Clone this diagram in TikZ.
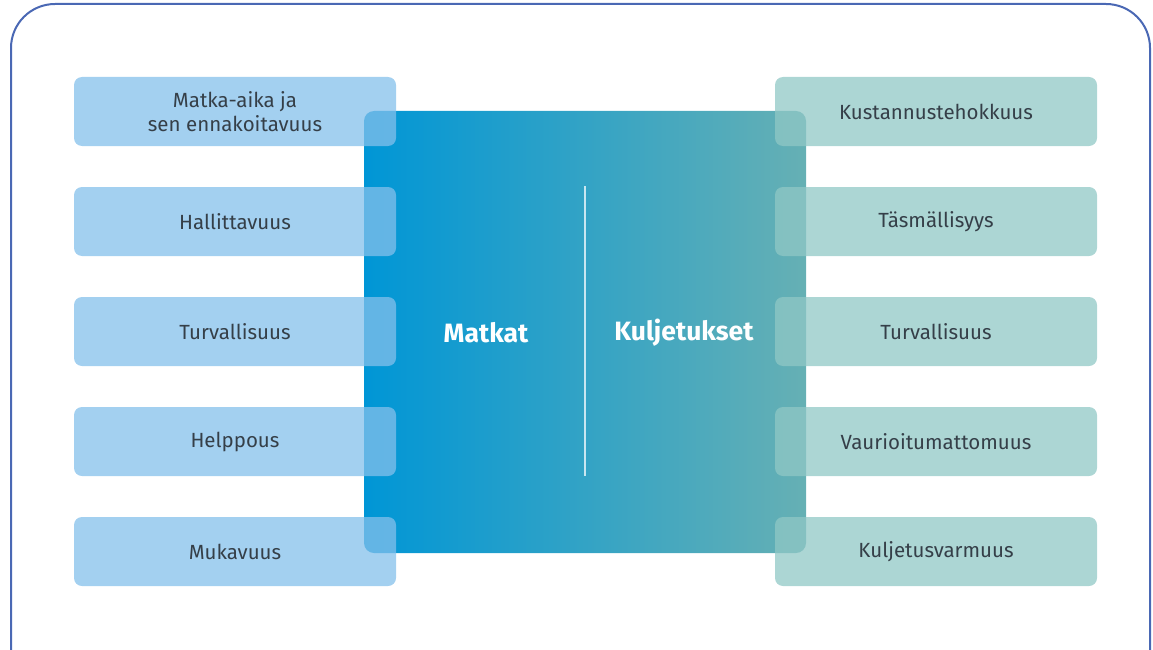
\documentclass[tikz,border=0pt]{standalone}
\usepackage{fontspec}
\setmainfont{Fira Sans}
\usetikzlibrary{positioning}
\definecolor{framec}{HTML}{4A68B4}
\definecolor{lbox}{RGB}{132,192,235}
\definecolor{rbox}{RGB}{144,200,198}
\definecolor{cleft}{HTML}{0096D6}
\definecolor{cright}{HTML}{66B0B4}
\definecolor{txt}{HTML}{353F48}
\definecolor{divc}{HTML}{C8E6F0}
\tikzset{
  lbx/.style={fill=lbox, fill opacity=0.75, text opacity=1, rounded corners=8pt, minimum width=322pt, minimum height=69pt, inner sep=0pt, text=txt, font=\fontsize{20.5}{24}\selectfont, align=center},
  rbx/.style={lbx, fill=rbox},
  big/.style={text=white, font=\fontsize{26.5}{30}\selectfont\bfseries}
}
\begin{document}
\begin{tikzpicture}[x=1pt,y=-1pt]
\useasboundingbox (0,0) rectangle (1153,650);
% outer frame
\draw[framec, line width=2pt] (11,652) -- (11,48) arc[start angle=180, end angle=270, x radius=44pt, y radius=-44pt] -- (1106,4) arc[start angle=270, end angle=360, x radius=44pt, y radius=-44pt] -- (1150,652);
% central gradient block
\shade[left color=cleft, right color=cright, rounded corners=10pt] (364,111) rectangle (806,553);
\node[big] (matkat) at (486,333) {Matkat};
\node[big] (kulj) at (684,333) {Kuljetukset};
\coordinate (dtop) at (585,186);
\coordinate (dbot) at (585,476);
\draw[divc, line width=2pt] (dtop) -- (dbot);
% left boxes
\node[lbx] (l1) at (235,111.5) {Matka-aika ja\\sen ennakoitavuus};
\node[lbx] (l2) at (235,221.5) {Hallittavuus};
\node[lbx] (l3) at (235,331.5) {Turvallisuus};
\node[lbx] (l4) at (235,441.5) {Helppous};
\node[lbx] (l5) at (235,551.5) {Mukavuus};
% right boxes
\node[rbx] (r1) at (936,111.5) {Kustannustehokkuus};
\node[rbx] (r2) at (936,221.5) {Täsmällisyys};
\node[rbx] (r3) at (936,331.5) {Turvallisuus};
\node[rbx] (r4) at (936,441.5) {Vaurioitumattomuus};
\node[rbx] (r5) at (936,551.5) {Kuljetusvarmuus};
\end{tikzpicture}
\end{document}
